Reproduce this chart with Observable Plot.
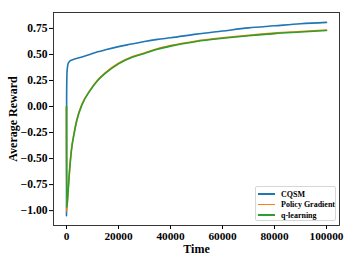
<!DOCTYPE html>
<html>
<head>
<meta charset="utf-8">
<script src="https://cdn.jsdelivr.net/npm/d3@7"></script>
<script src="https://cdn.jsdelivr.net/npm/@observablehq/plot@0.6"></script>
<style>
  html, body { margin: 0; padding: 0; background: #fff; }
  #wrap { position: relative; width: 357px; height: 268px; }
  #legend { position: absolute; left: 255px; top: 186px; width: 81px; height: 35px;
    background: #fff; border: 1px solid #d6d6d6; border-radius: 2px; box-sizing: border-box;
    font-family: "Liberation Serif", "DejaVu Serif", serif; font-weight: bold; font-size: 8px; color: #000; }
  .row { position: absolute; left: 2px; height: 10px; display: flex; align-items: center; white-space: nowrap; }
  .sw { width: 17px; height: 1.6px; margin-right: 6px; flex: none; }
</style>
</head>
<body>
<div id="wrap"><div id="chart"></div><div id="legend"></div></div>
<script>
const seriesNames = ["CQSM", "Policy Gradient", "q-learning"];
const seriesColors = ["#1f77b4", "#ff7f0e", "#2ca02c"];
const times = [0, 50, 200, 500, 900, 1500, 1900, 3000, 4000, 6000, 9000, 12000, 15000, 20000, 25000, 30000, 35000, 40000, 50000, 60000, 70000, 80000, 90000, 100000];
const cqsm = [-1.05, 0.10, 0.33, 0.40, 0.425, 0.44, 0.445, 0.455, 0.462, 0.475, 0.50, 0.525, 0.545, 0.575, 0.60, 0.625, 0.645, 0.66, 0.695, 0.725, 0.755, 0.775, 0.795, 0.808];
const policyGradient = [0.00, -1.01, -0.96, -0.855, -0.705, -0.515, -0.415, -0.245, -0.125, 0.025, 0.155, 0.255, 0.325, 0.415, 0.475, 0.515, 0.555, 0.585, 0.63, 0.66, 0.685, 0.705, 0.72, 0.735];
const qLearning = [0.00, -0.97, -0.95, -0.86, -0.71, -0.52, -0.42, -0.25, -0.13, 0.02, 0.15, 0.25, 0.32, 0.41, 0.47, 0.51, 0.55, 0.58, 0.625, 0.655, 0.68, 0.70, 0.715, 0.73];
const xTicks = [0, 20000, 40000, 60000, 80000, 100000];
const yTicks = [-1.00, -0.75, -0.50, -0.25, 0.00, 0.25, 0.50, 0.75];

const allSeries = [cqsm, policyGradient, qLearning];
const rows = [];
allSeries.forEach((vals, i) => vals.forEach((v, j) => rows.push({series: seriesNames[i], t: times[j], v})));

const chart = Plot.plot({
  width: 357,
  height: 268,
  marginLeft: 53,
  marginTop: 12,
  marginRight: 18,
  marginBottom: 43,
  style: {fontFamily: "'Liberation Serif', 'DejaVu Serif', serif", fontWeight: "bold", fontSize: "11px", color: "#000", background: "#fff"},
  x: {domain: [-5000, 105000]},
  y: {domain: [-1.143, 0.903]},
  color: {domain: seriesNames, range: seriesColors},
  marks: [
    Plot.axisX({ticks: xTicks, tickFormat: d3.format("d"), tickSize: 4, tickPadding: 2, label: null, fontSize: 11.3}),
    Plot.axisY({ticks: yTicks, tickFormat: d3.format(".2f"), tickSize: 4, tickPadding: 2, label: null, fontSize: 11.6}),
    Plot.axisX({ticks: [], tickSize: 0, label: "Time", labelArrow: "none", labelAnchor: "center", labelOffset: 27, fontSize: 12}),
    Plot.axisY({ticks: [], tickSize: 0, label: "Average Reward", labelArrow: "none", labelAnchor: "center", labelOffset: 45, fontSize: 12}),
    Plot.line(rows, {x: "t", y: "v", z: "series", stroke: "series", strokeWidth: 1.6, curve: "monotone-x"}),
    Plot.frame({stroke: "#222", strokeWidth: 0.9})
  ]
});
document.getElementById("chart").appendChild(chart);

const legend = document.getElementById("legend");
seriesNames.forEach((name, i) => {
  const r = document.createElement("div");
  r.className = "row";
  r.style.top = (2 + i * 10.5) + "px";
  const s = document.createElement("div");
  s.className = "sw";
  s.style.background = seriesColors[i];
  const tx = document.createElement("span");
  tx.textContent = name;
  r.appendChild(s); r.appendChild(tx);
  legend.appendChild(r);
});
</script>
</body>
</html>
